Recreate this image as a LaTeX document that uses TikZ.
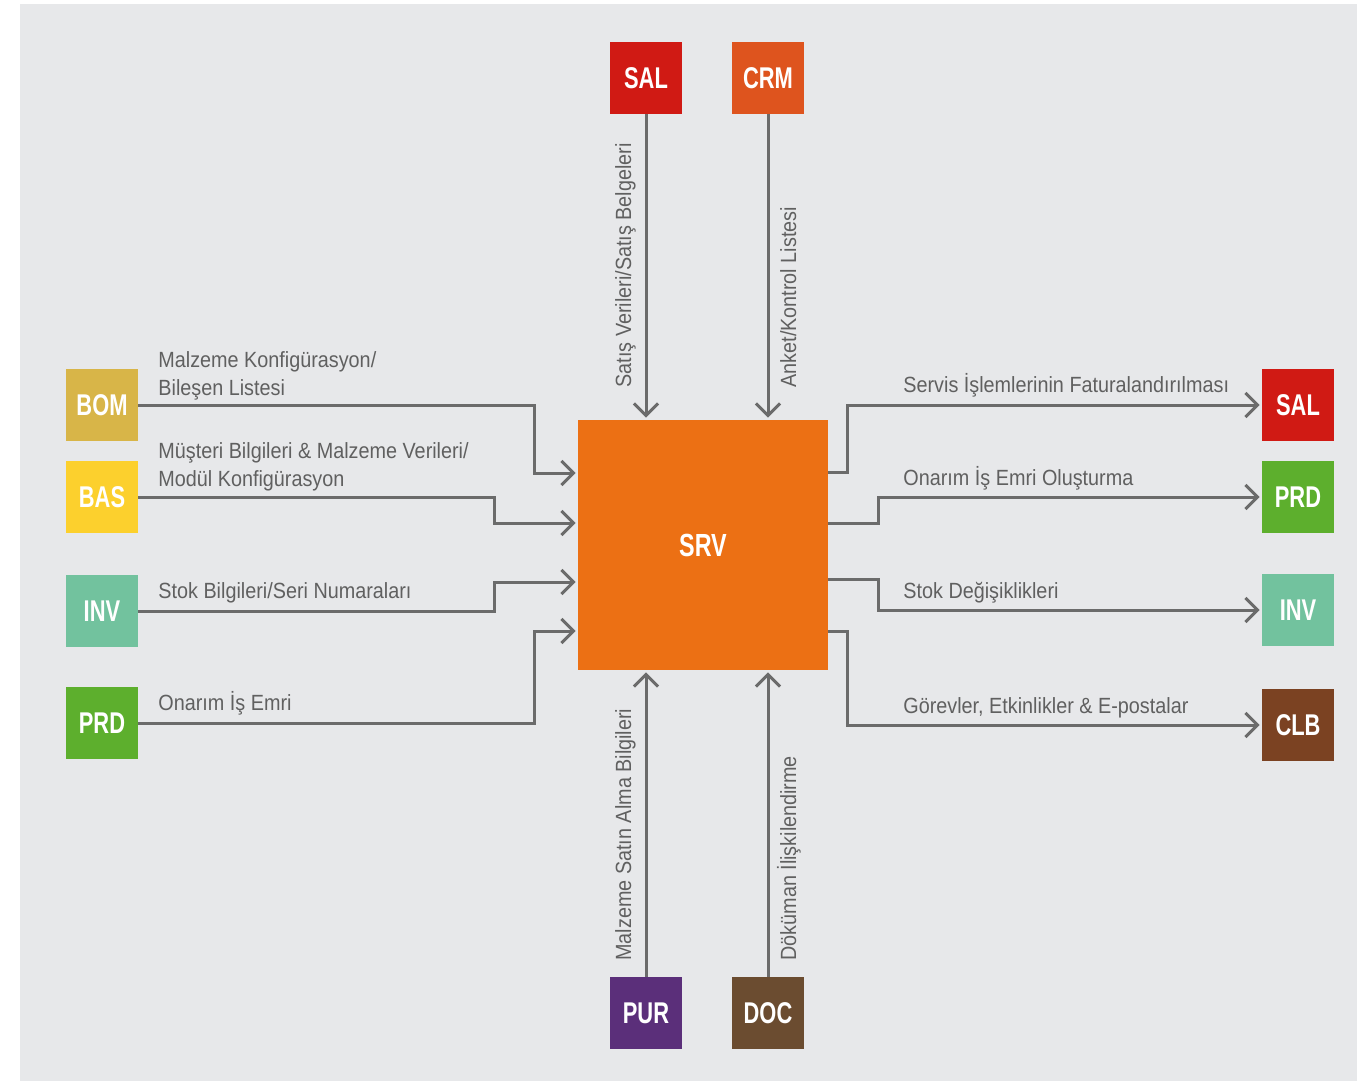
\documentclass[tikz,border=0pt]{standalone}
\usepackage{fontspec}
\setmainfont{Liberation Sans}[FakeStretch=0.9]
\newfontfamily\boxfont{Liberation Sans}[FakeStretch=0.73]
\usepackage{tikz}
\usetikzlibrary{arrows.meta}

\begin{document}
\begin{tikzpicture}[x=0.5pt,y=-0.5pt]

	\definecolor{bggray}{HTML}{E7E8EA}
	\definecolor{linegray}{HTML}{6B6B6B}
	\definecolor{textgray}{HTML}{606060}
	\definecolor{salred}{HTML}{D01A14}
	\definecolor{crmorange}{HTML}{DE541E}
	\definecolor{srvorange}{HTML}{EC7014}
	\definecolor{bomgold}{HTML}{D8B548}
	\definecolor{basyellow}{HTML}{FCD02D}
	\definecolor{invgreen}{HTML}{72C29E}
	\definecolor{prdgreen}{HTML}{5DAF2D}
	\definecolor{purpurple}{HTML}{5B2F7A}
	\definecolor{docbrown}{HTML}{6B4C30}
	\definecolor{clbbrown}{HTML}{7B4222}

	\useasboundingbox (0,0) rectangle (1357,1081);
	\fill[bggray] (20,4) rectangle (1357,1081);

	\tikzstyle{edge} = [draw, linegray, line width=1.5pt, -{Straight Barb[length=6pt,width=12pt]}, shorten >=1pt]
	\tikzstyle{lbl} = [textgray, font=\fontsize{11}{14}\selectfont, inner sep=0pt, anchor=base west, align=left]

	\tikzset{module/.style = {shape=rectangle, minimum size=36pt, inner sep=0pt, text=white, font=\boxfont\bfseries\fontsize{15}{15}\selectfont}}
	% center
	\node[module, minimum size=125pt, fill=srvorange, font=\boxfont\bfseries\fontsize{16}{16}\selectfont] (srv) at (703,545) {SRV};
	% top and bottom
	\node[module, fill=salred] (salT) at (646,78) {SAL};
	\node[module, fill=crmorange] (crm) at (768,78) {CRM};
	\node[module, fill=purpurple] (pur) at (646,1013) {PUR};
	\node[module, fill=docbrown] (doc) at (768,1013) {DOC};
	% left
	\node[module, fill=bomgold] (bom) at (102,405) {BOM};
	\node[module, fill=basyellow] (bas) at (102,497) {BAS};
	\node[module, fill=invgreen] (invL) at (102,611) {INV};
	\node[module, fill=prdgreen] (prdL) at (102,723) {PRD};
	% right
	\node[module, fill=salred] (salR) at (1298,405) {SAL};
	\node[module, fill=prdgreen] (prdR) at (1298,497) {PRD};
	\node[module, fill=invgreen] (invR) at (1298,610) {INV};
	\node[module, fill=clbbrown] (clb) at (1298,725) {CLB};

	\draw[edge] (salT) -- (salT |- srv.north);
	\draw[edge] (crm) -- (crm |- srv.north);
	\draw[edge] (pur) -- (pur |- srv.south);
	\draw[edge] (doc) -- (doc |- srv.south);

	\draw[edge] (bom.east) -- ++(198pt,0) |- ([yshift=36pt]srv.west);
	\draw[edge] (bas.east) -- ++(178pt,0) |- ([yshift=11pt]srv.west);
	\draw[edge] (invL.east) -- ++(178pt,0) |- ([yshift=-18.5pt]srv.west);
	\draw[edge] (prdL.east) -- ++(198pt,0) |- ([yshift=-43pt]srv.west);

	\draw[edge] ([yshift=36.5pt]srv.east) -- ++(9.5pt,0) |- (salR.west);
	\draw[edge] ([yshift=11pt]srv.east) -- ++(25pt,0) |- (prdR.west);
	\draw[edge] ([yshift=-17pt]srv.east) -- ++(25pt,0) |- (invR.west);
	\draw[edge] ([yshift=-43pt]srv.east) -- ++(9.5pt,0) |- (clb.west);

	% labels
	\node[lbl, rotate=90] (satLbl) at (631,388) {Satış Verileri/Satış Belgeleri};
	\node[lbl, rotate=90] (ankLbl) at (796,388) {Anket/Kontrol Listesi};
	\node[lbl, rotate=90] (purLbl) at (631,961) {Malzeme Satın Alma Bilgileri};
	\node[lbl, rotate=90] (docLbl) at (796,961) {Döküman İlişkilendirme};

	\node[lbl] (bomLbl) at (158,395) {Malzeme Konfigürasyon/\\Bileşen Listesi};
	\node[lbl] (basLbl) at (158,487) {Müşteri Bilgileri \& Malzeme Verileri/\\Modül Konfigürasyon};
	\node[lbl] (invLLbl) at (158,598) {Stok Bilgileri/Seri Numaraları};
	\node[lbl] (prdLLbl) at (158,710) {Onarım İş Emri};

	\node[lbl] (salRLbl) at (903,393) {Servis İşlemlerinin Faturalandırılması};
	\node[lbl] (prdRLbl) at (903,485) {Onarım İş Emri Oluşturma};
	\node[lbl] (invRLbl) at (903,598) {Stok Değişiklikleri};
	\node[lbl] (clbLbl) at (903,713) {Görevler, Etkinlikler \& E-postalar};
\end{tikzpicture}
\end{document}
